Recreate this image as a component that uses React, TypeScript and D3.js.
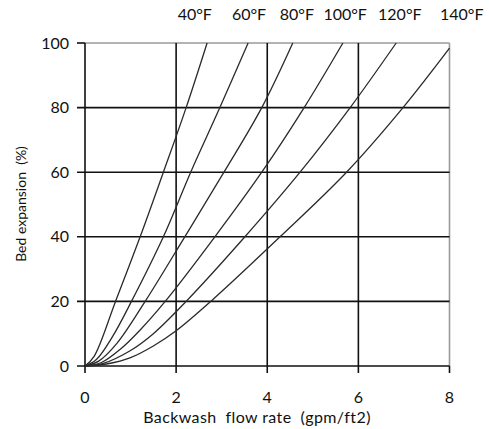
import React, { useEffect } from 'react';
import * as d3 from 'd3';

// bed expansion (%) vs backwash flow rate (gpm/ft2), one curve per water temperature
const temps = ['40°F', '60°F', '80°F', '100°F', '120°F', '140°F'];
const labelX = [2.41, 3.6, 4.65, 5.71, 6.91, 8.27];

const curve40: [number, number][] = [[0, 0], [0.2, 3], [0.67, 20], [1.21, 40], [1.72, 60], [2.22, 80], [2.68, 100]];
const curve60: [number, number][] = [[0, 0], [0.25, 2], [0.6, 9], [1.02, 20], [1.72, 40], [2.32, 60], [2.96, 80], [3.58, 100]];
const curve80: [number, number][] = [[0, 0], [0.3, 1.5], [0.7, 7], [1.32, 20], [2.19, 40], [3.05, 60], [3.88, 80], [4.56, 100]];
const curve100: [number, number][] = [[0, 0], [0.35, 1], [0.8, 5.5], [1.2, 11], [1.76, 20], [2.85, 40], [3.88, 60], [4.81, 80], [5.66, 100]];
const curve120: [number, number][] = [[0, 0], [0.4, 0.8], [1, 4.8], [1.5, 10], [2.22, 20], [3.51, 40], [4.72, 60], [5.82, 80], [6.83, 100]];
const curve140: [number, number][] = [[0, 0], [0.5, 0.7], [1, 2.6], [1.5, 6.2], [2, 10.9], [2.76, 20], [4.28, 40], [5.74, 60], [6.98, 80], [8, 98.4]];

const curves = [curve40, curve60, curve80, curve100, curve120, curve140];
const xTicks = [0, 2, 4, 6, 8];
const yTicks = [0, 20, 40, 60, 80, 100];

const width = 489;
const height = 429;
const font = 'Lato, "Open Sans", sans-serif';

export default function App() {
  useEffect(() => {
    document.body.style.margin = '0';
  }, []);

  const x = d3.scaleLinear().domain([0, 8]).range([85, 449.5]);
  const y = d3.scaleLinear().domain([0, 100]).range([366, 43]);

  const line = d3.line<[number, number]>()
    .x(d => x(d[0]))
    .y(d => y(d[1]))
    .curve(d3.curveCatmullRom.alpha(0.5));

  return (
    <svg width={width} height={height} style={{ display: 'block', background: '#fff' }}>
      {/* outer frame, top and right in gray */}
      <line x1={x(0)} x2={x(8)} y1={y(100)} y2={y(100)} stroke="#9a9a9a" strokeWidth={1.6} />
      <line x1={x(8)} x2={x(8)} y1={y(100)} y2={y(0)} stroke="#9a9a9a" strokeWidth={1.6} />

      {/* grid */}
      {yTicks.filter(t => t < 100).map(t => (
        <line key={'gy' + t} x1={x(0) - 8} x2={x(8)} y1={y(t)} y2={y(t)} stroke="#111" strokeWidth={1.6} />
      ))}
      <line x1={x(0) - 8} x2={x(0)} y1={y(100)} y2={y(100)} stroke="#111" strokeWidth={1.6} />
      {xTicks.filter(t => t < 8).map(t => (
        <line key={'gx' + t} x1={x(t)} x2={x(t)} y1={y(100)} y2={y(0) + 7} stroke="#111" strokeWidth={1.6} />
      ))}
      <line x1={x(8)} x2={x(8)} y1={y(0)} y2={y(0) + 7} stroke="#111" strokeWidth={1.6} />

      {/* curves */}
      {curves.map((c, i) => (
        <path key={'c' + i} d={line(c) || ''} fill="none" stroke="#2a2a2a" strokeWidth={1.3} />
      ))}

      {/* tick labels */}
      {yTicks.map(t => (
        <text key={'ty' + t} x={69} y={y(t) + 5.5} textAnchor="end" fontFamily={font} fontSize={16} fill="#111">{t}</text>
      ))}
      {xTicks.map(t => (
        <text key={'tx' + t} x={x(t)} y={403} textAnchor="middle" fontFamily={font} fontSize={16} fill="#111">{t}</text>
      ))}

      {/* temperature labels */}
      {temps.map((t, i) => (
        <text key={'tl' + i} x={x(labelX[i])} y={20} textAnchor="middle" fontFamily={font} fontSize={16} fill="#111">{t}</text>
      ))}

      {/* axis titles */}
      <text x={257} y={423} textAnchor="middle" fontFamily={font} fontSize={16} letterSpacing={0.4} fill="#111" style={{ whiteSpace: 'pre' }}>Backwash  flow rate  (gpm/ft2)</text>
      <text transform={`translate(26,204) rotate(-90)`} textAnchor="middle" fontFamily={font} fontSize={14} fill="#111" style={{ whiteSpace: 'pre' }}>Bed expansion  (%)</text>
    </svg>
  );
}
